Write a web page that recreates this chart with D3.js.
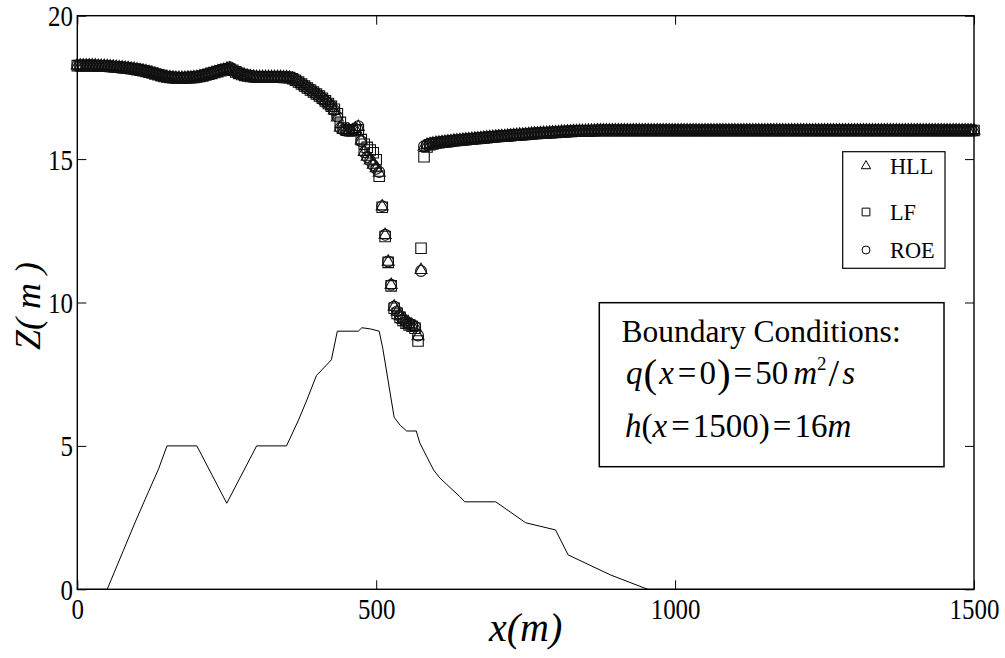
<!DOCTYPE html>
<html>
<head>
<meta charset="utf-8">
<script src="https://cdn.jsdelivr.net/npm/d3@7"></script>
<style>
  html, body { margin: 0; padding: 0; background: #fff; }
  svg { display: block; font-family: "Liberation Serif", "Times New Roman", serif; }
</style>
</head>
<body>
<svg id="chart" width="1005" height="658"></svg>
<script>
// Computational grid stations (m), dx = 5 m
const stations = [
  0,5,10,15,20,25,30,35,40,45,50,55,60,65,70,75,80,85,90,95,
  100,105,110,115,120,125,130,135,140,145,150,155,160,165,170,175,180,185,190,195,
  200,205,210,215,220,225,230,235,240,245,250,255,260,265,270,275,280,285,290,295,
  300,305,310,315,320,325,330,335,340,345,350,355,360,365,370,375,380,385,390,395,
  400,405,410,415,420,425,430,435,440,445,450,455,460,465,470,475,480,485,490,495,
  500,505,510,515,520,525,530,535,540,545,550,555,560,565,570,575,580,585,590,595,
  600,605,610,615,620,625,630,635,640,645,650,655,660,665,670,675,680,685,690,695,
  700,705,710,715,720,725,730,735,740,745,750,755,760,765,770,775,780,785,790,795,
  800,805,810,815,820,825,830,835,840,845,850,855,860,865,870,875,880,885,890,895,
  900,905,910,915,920,925,930,935,940,945,950,955,960,965,970,975,980,985,990,995,
  1000,1005,1010,1015,1020,1025,1030,1035,1040,1045,1050,1055,1060,1065,1070,1075,1080,1085,1090,1095,
  1100,1105,1110,1115,1120,1125,1130,1135,1140,1145,1150,1155,1160,1165,1170,1175,1180,1185,1190,1195,
  1200,1205,1210,1215,1220,1225,1230,1235,1240,1245,1250,1255,1260,1265,1270,1275,1280,1285,1290,1295,
  1300,1305,1310,1315,1320,1325,1330,1335,1340,1345,1350,1355,1360,1365,1370,1375,1380,1385,1390,1395,
  1400,1405,1410,1415,1420,1425,1430,1435,1440,1445,1450,1455,1460,1465,1470,1475,1480,1485,1490,1495,
  1500
];

// Free-surface elevation Z (m) computed by each scheme
const zHLL = [
  18.26,18.26,18.26,18.26,18.26,18.26,18.26,18.25,18.25,18.25,18.24,18.23,18.22,18.21,18.20,18.19,18.18,18.17,18.15,18.14,
  18.12,18.10,18.08,18.06,18.03,18.00,17.97,17.94,17.91,17.88,17.86,17.85,17.84,17.83,17.83,17.83,17.83,17.84,17.84,17.85,
  17.86,17.88,17.90,17.93,17.96,17.99,18.02,18.05,18.08,18.11,18.14,18.16,18.10,18.04,17.99,17.95,17.92,17.90,17.88,17.87,
  17.86,17.86,17.86,17.86,17.86,17.86,17.86,17.86,17.86,17.85,17.85,17.84,17.80,17.75,17.69,17.62,17.55,17.48,17.41,17.34,
  17.27,17.20,17.12,17.03,16.94,16.84,16.70,16.45,16.10,16.02,16.00,15.99,16.00,16.05,16.12,15.65,15.25,15.08,14.95,14.80,
  14.68,14.52,13.35,12.35,11.42,10.61,9.85,9.68,9.52,9.40,9.31,9.25,9.20,9.15,8.82,11.13,15.43,15.49,15.52,15.54,
  15.56,15.57,15.59,15.60,15.61,15.62,15.64,15.65,15.66,15.67,15.68,15.69,15.70,15.71,15.72,15.73,15.74,15.75,15.76,15.77,
  15.78,15.79,15.80,15.80,15.81,15.82,15.83,15.84,15.85,15.85,15.86,15.87,15.88,15.89,15.89,15.90,15.91,15.91,15.92,15.93,
  15.93,15.94,15.95,15.95,15.96,15.96,15.97,15.97,15.98,15.98,15.98,15.99,15.99,15.99,16.00,16.00,16.00,16.00,16.00,16.00,
  16.00,16.00,16.00,16.00,16.00,16.00,16.00,16.00,16.00,16.00,16.00,16.00,16.00,16.00,16.00,16.00,16.00,16.00,16.00,16.00,
  16.00,16.00,16.00,16.00,16.00,16.00,16.00,16.00,16.00,16.00,16.00,16.00,16.00,16.00,16.00,16.00,16.00,16.00,16.00,16.00,
  16.00,16.00,16.00,16.00,16.00,16.00,16.00,16.00,16.00,16.00,16.00,16.00,16.00,16.00,16.00,16.00,16.00,16.00,16.00,16.00,
  16.00,16.00,16.00,16.00,16.00,16.00,16.00,16.00,16.00,16.00,16.00,16.00,16.00,16.00,16.00,16.00,16.00,16.00,16.00,16.00,
  16.00,16.00,16.00,16.00,16.00,16.00,16.00,16.00,16.00,16.00,16.00,16.00,16.00,16.00,16.00,16.00,16.00,16.00,16.00,16.00,
  16.00,16.00,16.00,16.00,16.00,16.00,16.00,16.00,16.00,16.00,16.00,16.00,16.00,16.00,16.00,16.00,16.00,16.00,16.00,16.00,
  16.00
];

const zLF = [
  18.26,18.26,18.26,18.26,18.26,18.26,18.26,18.25,18.25,18.25,18.24,18.23,18.22,18.21,18.20,18.19,18.18,18.17,18.15,18.14,
  18.12,18.10,18.08,18.06,18.03,18.00,17.97,17.94,17.91,17.88,17.86,17.85,17.84,17.83,17.83,17.83,17.83,17.84,17.84,17.85,
  17.86,17.88,17.90,17.93,17.96,17.99,18.02,18.05,18.08,18.11,18.13,18.14,18.10,18.04,17.99,17.95,17.92,17.90,17.88,17.87,
  17.86,17.86,17.86,17.86,17.86,17.86,17.86,17.86,17.86,17.85,17.85,17.84,17.80,17.75,17.69,17.62,17.55,17.48,17.41,17.34,
  17.27,17.20,17.12,17.03,16.94,16.84,16.74,16.58,16.28,16.08,16.01,15.99,15.99,16.02,16.02,15.68,15.52,15.41,15.32,15.22,
  14.98,14.40,13.32,12.30,11.40,10.58,9.80,9.62,9.48,9.37,9.28,9.22,9.17,9.10,8.66,11.89,15.08,15.42,15.50,15.53,
  15.56,15.57,15.59,15.60,15.61,15.62,15.64,15.65,15.66,15.67,15.68,15.69,15.70,15.71,15.72,15.73,15.74,15.75,15.76,15.77,
  15.78,15.79,15.80,15.80,15.81,15.82,15.83,15.84,15.85,15.85,15.86,15.87,15.88,15.89,15.89,15.90,15.91,15.91,15.92,15.93,
  15.93,15.94,15.95,15.95,15.96,15.96,15.97,15.97,15.98,15.98,15.98,15.99,15.99,15.99,16.00,16.00,16.00,16.00,16.00,16.00,
  16.00,16.00,16.00,16.00,16.00,16.00,16.00,16.00,16.00,16.00,16.00,16.00,16.00,16.00,16.00,16.00,16.00,16.00,16.00,16.00,
  16.00,16.00,16.00,16.00,16.00,16.00,16.00,16.00,16.00,16.00,16.00,16.00,16.00,16.00,16.00,16.00,16.00,16.00,16.00,16.00,
  16.00,16.00,16.00,16.00,16.00,16.00,16.00,16.00,16.00,16.00,16.00,16.00,16.00,16.00,16.00,16.00,16.00,16.00,16.00,16.00,
  16.00,16.00,16.00,16.00,16.00,16.00,16.00,16.00,16.00,16.00,16.00,16.00,16.00,16.00,16.00,16.00,16.00,16.00,16.00,16.00,
  16.00,16.00,16.00,16.00,16.00,16.00,16.00,16.00,16.00,16.00,16.00,16.00,16.00,16.00,16.00,16.00,16.00,16.00,16.00,16.00,
  16.00,16.00,16.00,16.00,16.00,16.00,16.00,16.00,16.00,16.00,16.00,16.00,16.00,16.00,16.00,16.00,16.00,16.00,16.00,16.00,
  16.00
];

const zROE = [
  18.26,18.26,18.26,18.26,18.26,18.26,18.26,18.25,18.25,18.25,18.24,18.23,18.22,18.21,18.20,18.19,18.18,18.17,18.15,18.14,
  18.12,18.10,18.08,18.06,18.03,18.00,17.97,17.94,17.91,17.88,17.86,17.85,17.84,17.83,17.83,17.83,17.83,17.84,17.84,17.85,
  17.86,17.88,17.90,17.93,17.96,17.99,18.02,18.05,18.08,18.11,18.15,18.20,18.10,18.04,17.99,17.95,17.92,17.90,17.88,17.87,
  17.86,17.86,17.86,17.86,17.86,17.86,17.86,17.86,17.86,17.85,17.85,17.84,17.80,17.75,17.69,17.62,17.55,17.48,17.41,17.34,
  17.27,17.20,17.12,17.03,16.94,16.84,16.70,16.48,16.08,16.02,16.00,15.99,16.00,16.06,16.15,15.62,15.24,15.07,14.94,14.79,
  14.66,14.55,13.36,12.36,11.43,10.62,9.86,9.69,9.53,9.41,9.32,9.26,9.21,9.16,8.85,11.10,15.45,15.50,15.52,15.54,
  15.56,15.57,15.59,15.60,15.61,15.62,15.64,15.65,15.66,15.67,15.68,15.69,15.70,15.71,15.72,15.73,15.74,15.75,15.76,15.77,
  15.78,15.79,15.80,15.80,15.81,15.82,15.83,15.84,15.85,15.85,15.86,15.87,15.88,15.89,15.89,15.90,15.91,15.91,15.92,15.93,
  15.93,15.94,15.95,15.95,15.96,15.96,15.97,15.97,15.98,15.98,15.98,15.99,15.99,15.99,16.00,16.00,16.00,16.00,16.00,16.00,
  16.00,16.00,16.00,16.00,16.00,16.00,16.00,16.00,16.00,16.00,16.00,16.00,16.00,16.00,16.00,16.00,16.00,16.00,16.00,16.00,
  16.00,16.00,16.00,16.00,16.00,16.00,16.00,16.00,16.00,16.00,16.00,16.00,16.00,16.00,16.00,16.00,16.00,16.00,16.00,16.00,
  16.00,16.00,16.00,16.00,16.00,16.00,16.00,16.00,16.00,16.00,16.00,16.00,16.00,16.00,16.00,16.00,16.00,16.00,16.00,16.00,
  16.00,16.00,16.00,16.00,16.00,16.00,16.00,16.00,16.00,16.00,16.00,16.00,16.00,16.00,16.00,16.00,16.00,16.00,16.00,16.00,
  16.00,16.00,16.00,16.00,16.00,16.00,16.00,16.00,16.00,16.00,16.00,16.00,16.00,16.00,16.00,16.00,16.00,16.00,16.00,16.00,
  16.00,16.00,16.00,16.00,16.00,16.00,16.00,16.00,16.00,16.00,16.00,16.00,16.00,16.00,16.00,16.00,16.00,16.00,16.00,16.00,
  16.00
];

// Bed profile (x, z) breakpoints
const bedX = [0, 50, 77, 97, 119, 136, 150, 200, 225, 250, 300, 350, 370, 384, 400, 425, 435, 470, 476, 490, 505, 511, 530, 540, 551, 567, 573, 596, 607, 640, 648, 700, 750, 800, 821, 892, 948, 955, 1500];
const bedZ = [0, 0, 1.35, 2.35, 3.4, 4.2, 5, 5, 4.0, 3, 5, 5, 5.9, 6.6, 7.45, 8.0, 9.0, 9.0, 9.12, 9.08, 9.0, 8.4, 6.0, 5.72, 5.52, 5.52, 5.1, 4.16, 3.87, 3.23, 3.05, 3.05, 2.32, 2.07, 1.2, 0.5, 0.05, 0, 0];

const xTicks = [0, 500, 1000, 1500];
const yTicks = [0, 5, 10, 15, 20];
const schemeNames = ["HLL", "LF", "ROE"];

(function draw() {
  const svg = d3.select("#chart");
  const plotL = 77.3, plotR = 974, plotT = 15.7, plotB = 589.3;

  const x = d3.scaleLinear().domain([0, 1500]).range([plotL, plotR]);
  const y = d3.scaleLinear().domain([0, 20]).range([plotB, plotT]);

  // Bed line
  svg.append("path")
    .datum(bedX.map((d, i) => [d, bedZ[i]]))
    .attr("fill", "none")
    .attr("stroke", "#000")
    .attr("stroke-width", 1)
    .attr("d", d3.line().x(d => x(d[0])).y(d => y(d[1])));

  // Scheme markers
  const shapes = {
    HLL: d3.symbol().type(d3.symbolTriangle).size(62),
    LF: d3.symbol().type(d3.symbolSquare).size(110),
    ROE: d3.symbol().type(d3.symbolCircle).size(92)
  };
  const series = { HLL: zHLL, LF: zLF, ROE: zROE };

  schemeNames.forEach(name => {
    svg.append("g")
      .selectAll("path")
      .data(stations.map((s, i) => [s, series[name][i]]))
      .join("path")
      .attr("transform", d => `translate(${x(d[0])},${y(d[1])})`)
      .attr("d", shapes[name]())
      .attr("fill", "none")
      .attr("stroke", "#111")
      .attr("stroke-width", 1.1);
  });

  // Frame
  svg.append("rect")
    .attr("x", plotL).attr("y", plotT)
    .attr("width", plotR - plotL).attr("height", plotB - plotT)
    .attr("fill", "none").attr("stroke", "#000").attr("stroke-width", 1.4);

  const tickFont = g => g.selectAll("text")
    .attr("font-family", "Liberation Serif, serif")
    .attr("font-size", 29)
    .attr("fill", "#000");

  // Bottom axis (inward ticks)
  svg.append("g")
    .attr("transform", `translate(0,${plotB})`)
    .call(d3.axisBottom(x).tickValues(xTicks).tickSize(-9).tickSizeOuter(0).tickFormat(d3.format("d")))
    .call(g => g.select(".domain").remove())
    .call(g => g.selectAll("line").attr("stroke", "#000"))
    .call(tickFont)
    .call(g => g.selectAll("text").attr("y", 30).attr("dy", 0).attr("transform", "scale(0.86,1)"));

  // Top axis ticks
  svg.append("g")
    .attr("transform", `translate(0,${plotT})`)
    .call(d3.axisTop(x).tickValues(xTicks).tickSize(-9).tickSizeOuter(0).tickFormat(""))
    .call(g => g.select(".domain").remove())
    .call(g => g.selectAll("line").attr("stroke", "#000"));

  // Left axis
  svg.append("g")
    .attr("transform", `translate(${plotL},0)`)
    .call(d3.axisLeft(y).tickValues(yTicks).tickSize(-9).tickSizeOuter(0).tickFormat(d3.format("d")))
    .call(g => g.select(".domain").remove())
    .call(g => g.selectAll("line").attr("stroke", "#000"))
    .call(tickFont)
    .call(g => g.selectAll("text").attr("x", -5).attr("dy", 10).attr("transform", "scale(0.86,1)"));

  // Right axis ticks
  svg.append("g")
    .attr("transform", `translate(${plotR},0)`)
    .call(d3.axisRight(y).tickValues(yTicks).tickSize(-9).tickSizeOuter(0).tickFormat(""))
    .call(g => g.select(".domain").remove())
    .call(g => g.selectAll("line").attr("stroke", "#000"));

  // Axis titles
  svg.append("text")
    .attr("x", (plotL + plotR) / 2).attr("y", 641)
    .attr("text-anchor", "middle")
    .attr("font-size", 40).attr("font-style", "italic")
    .text("x(m)");

  svg.append("text")
    .attr("transform", "translate(40,306) rotate(-90)")
    .attr("text-anchor", "middle")
    .attr("font-size", 36).attr("font-style", "italic")
    .text("Z( m )");

  // Legend
  const lg = svg.append("g");
  lg.append("rect")
    .attr("x", 842.7).attr("y", 151.7).attr("width", 102.3).attr("height", 116.6)
    .attr("fill", "#fff").attr("stroke", "#000").attr("stroke-width", 1.2);
  const legendShapes = {
    HLL: d3.symbol().type(d3.symbolTriangle).size(38),
    LF: d3.symbol().type(d3.symbolSquare).size(60),
    ROE: d3.symbol().type(d3.symbolCircle).size(50)
  };
  const legendY = [166, 212, 250];
  schemeNames.forEach((name, i) => {
    lg.append("path")
      .attr("transform", `translate(866,${legendY[i]})`)
      .attr("d", legendShapes[name]())
      .attr("fill", "none").attr("stroke", "#000").attr("stroke-width", 1);
    lg.append("text")
      .attr("transform", `translate(890,${legendY[i] + 8}) scale(0.93,1)`)
      .attr("font-size", 24)
      .text(name);
  });

  // Boundary-condition annotation
  const bc = svg.append("g");
  bc.append("rect")
    .attr("x", 599.3).attr("y", 302.7).attr("width", 344.7).attr("height", 164)
    .attr("fill", "#fff").attr("stroke", "#000").attr("stroke-width", 1.5);
  bc.append("text")
    .attr("x", 621.5).attr("y", 341.5)
    .attr("font-size", 31.5)
    .text("Boundary Conditions:");

  const l2 = bc.append("text").attr("x", 626).attr("y", 384).attr("font-size", 33);
  l2.append("tspan").attr("font-style", "italic").text("q");
  l2.append("tspan").attr("font-size", 41).attr("dy", 3).attr("dx", 1).text("(");
  l2.append("tspan").attr("font-style", "italic").attr("dy", -3).attr("dx", 2).text("x");
  l2.append("tspan").attr("dx", 4).text("=");
  l2.append("tspan").attr("dx", 3).text("0");
  l2.append("tspan").attr("font-size", 41).attr("dy", 3).attr("dx", 1).text(")");
  l2.append("tspan").attr("dy", -3).attr("dx", 3).text("=");
  l2.append("tspan").attr("dx", 3).text("50");
  l2.append("tspan").attr("font-style", "italic").attr("dx", 5).text("m");
  l2.append("tspan").attr("font-size", 19).attr("dy", -14).text("2");
  l2.append("tspan").attr("font-size", 38).attr("dy", 16).attr("dx", 2).text("/");
  l2.append("tspan").attr("font-style", "italic").attr("dy", -2).attr("dx", 3).text("s");

  const l3 = bc.append("text").attr("x", 625).attr("y", 437).attr("font-size", 33);
  l3.append("tspan").attr("font-style", "italic").text("h");
  l3.append("tspan").text("(");
  l3.append("tspan").attr("font-style", "italic").text("x");
  l3.append("tspan").attr("dx", 4).text("=");
  l3.append("tspan").attr("dx", 3).text("1500");
  l3.append("tspan").text(")");
  l3.append("tspan").attr("dx", 3).text("=");
  l3.append("tspan").attr("dx", 3).text("16");
  l3.append("tspan").attr("font-style", "italic").text("m");
})();
</script>
</body>
</html>
